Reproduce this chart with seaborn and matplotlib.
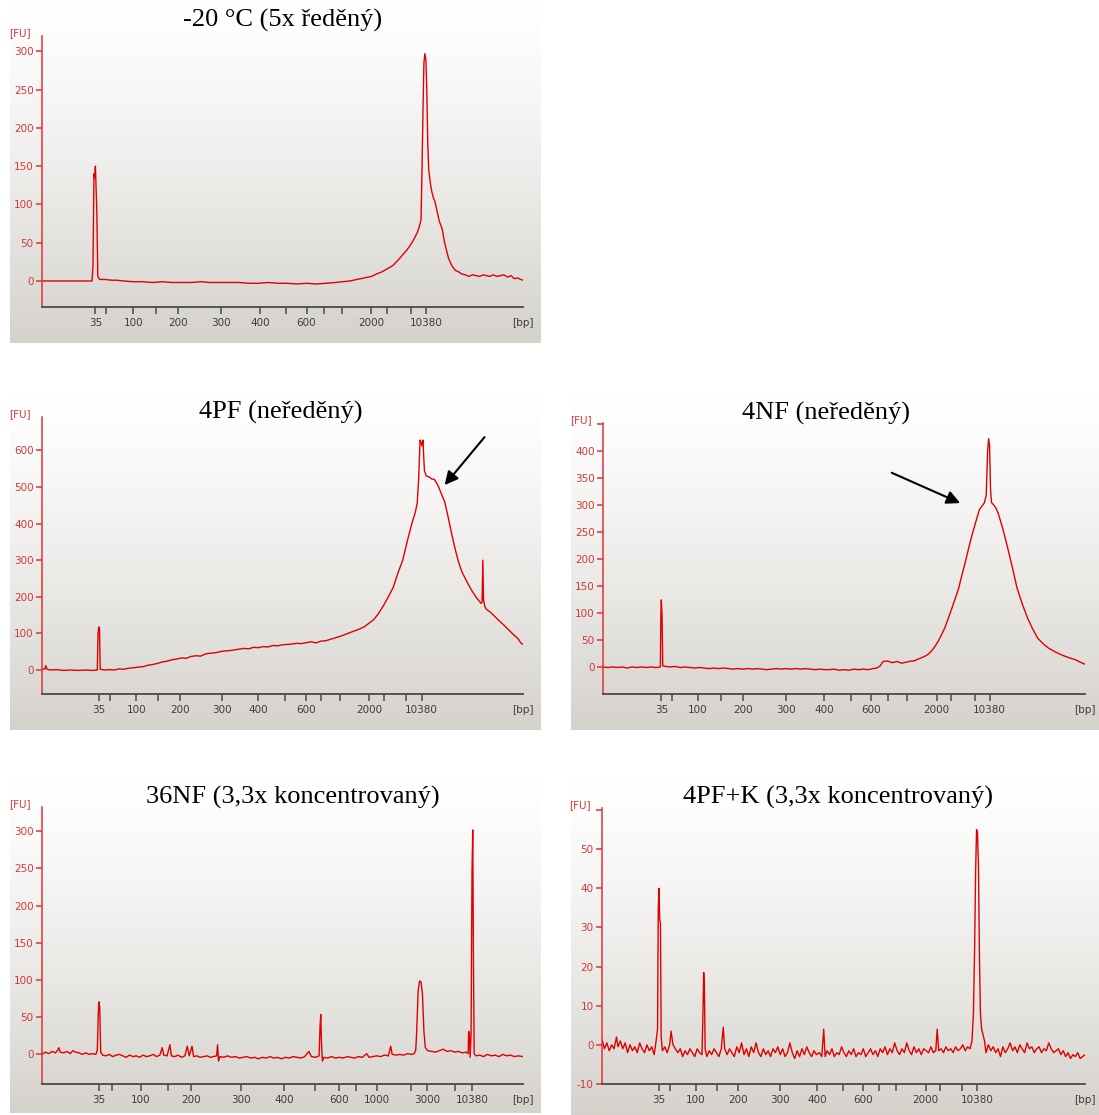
import numpy as np
import matplotlib
matplotlib.use('Agg')
import matplotlib.pyplot as plt
import seaborn as sns

W, H = 1099, 1115
TRACE = '#e00000'
AXIS_RED = '#e03434'
LABEL_RED = '#d03a3a'
GREY = '#3c3c3c'

# ladder sizes (bp) and which of them carry a label
LADDER_BP = [35, 50, 100, 150, 200, 300, 400, 500, 600, 700, 1000, 2000, 3000, 7000, 10380]
SHOWN_A = [35, 100, 200, 300, 400, 600, 2000, 10380]
SHOWN_B = [35, 100, 200, 300, 400, 600, 1000, 3000, 10380]

# ladder positions along the migration axis (% of axis length), per run
p1_ladder = [11.1, 13.4, 19.0, 23.8, 28.2, 37.3, 45.3, 50.8, 55.0, 58.6, 62.4, 68.5, 71.8, 76.7, 79.8]
p2_ladder = [11.8, 14.2, 19.6, 24.2, 28.6, 37.4, 45.0, 50.6, 54.8, 58.0, 61.9, 68.0, 71.0, 75.6, 78.9]
p3_ladder = [12.1, 14.4, 19.7, 24.5, 29.1, 37.9, 45.8, 51.5, 55.6, 59.1, 63.1, 69.2, 72.1, 77.1, 80.2]
p4_ladder = [11.8, 14.5, 20.5, 26.1, 30.9, 41.3, 50.3, 56.7, 61.7, 65.3, 69.6, 76.8, 80.1, 85.9, 89.5]
p5_ladder = [11.8, 14.1, 19.4, 23.9, 28.1, 36.9, 44.5, 49.9, 54.1, 57.3, 60.9, 67.0, 69.9, 74.6, 77.7]

# -20 °C (5x ředěný)
p1_x = [0.0, 4.0, 8.0, 10.4, 10.6, 10.8, 10.95, 11.1, 11.25, 11.4, 11.6, 12.0, 13.0, 14.5, 15.5,
        17.0, 19.0, 21.0, 23.0, 25.0, 27.0, 29.0, 31.0, 33.0, 35.0, 37.0, 39.0, 41.0, 43.0, 45.0,
        47.0, 49.0, 51.0, 53.0, 55.0, 57.0, 59.0, 61.0, 62.5, 64.0, 65.5, 67.0, 68.5, 69.5, 70.7,
        71.8, 72.9, 74.0, 75.1, 75.8, 76.5, 77.1, 77.6, 78.0, 78.4, 78.8, 79.0, 79.2, 79.4, 79.6,
        79.8, 80.0, 80.2, 80.4, 80.6, 80.8, 81.1, 81.4, 81.7, 82.1, 82.6, 83.2, 83.7, 84.1, 84.5,
        85.2, 85.9, 86.6, 87.3, 88.0, 88.7, 89.5, 90.2, 91.0, 91.7, 92.4, 93.1, 93.8, 94.6, 95.3,
        96.0, 96.8, 97.5, 98.2, 98.9, 99.5, 100.0]
p1_y = [0, 0, 0, 0, 20, 140, 135, 150, 120, 90, 6, 2, 2, 1, 1,
        0, -1, -1, -2, -1, -2, -2, -2, -1, -2, -2, -2, -2, -3, -3,
        -2, -3, -3, -4, -3, -4, -3, -2, -1, 0, 2, 4, 6, 9, 12,
        16, 20, 27, 35, 40, 46, 52, 58, 63, 70, 80, 145, 220, 285, 297,
        290, 250, 180, 145, 135, 125, 115, 108, 104, 92, 78, 68, 50, 40, 30,
        20, 14, 12, 9, 8, 6, 8, 7, 6, 8, 7, 6, 8, 6, 7,
        8, 5, 7, 3, 4, 2, 1]

# 4PF (neředěný)
p2_x = [0.0, 0.6, 0.8, 1.0, 1.5, 3.0, 4.5, 6.0, 7.5, 9.0, 10.5, 11.5, 11.65, 11.8, 11.95, 12.1,
        13.0, 14.0, 15.0, 16.0, 17.0, 18.0, 19.0, 20.0, 21.0, 22.0, 23.0, 24.0, 25.0, 26.0, 27.0,
        28.0, 29.0, 30.0, 31.0, 32.0, 33.0, 34.0, 35.0, 36.0, 37.0, 38.0, 39.0, 40.0, 41.0, 42.0,
        43.0, 44.0, 45.0, 46.0, 47.0, 48.0, 49.0, 50.0, 51.0, 52.0, 53.0, 54.0, 55.0, 56.0, 57.0,
        58.0, 59.0, 60.0, 61.0, 62.0, 63.0, 64.0, 65.0, 66.0, 67.0, 68.0, 69.0, 70.0, 71.0, 72.0,
        73.0, 74.0, 75.0, 76.0, 77.0, 77.6, 78.0, 78.3, 78.6, 78.8, 79.0, 79.2, 79.5, 79.9, 80.5,
        81.0, 81.6, 82.3, 83.0, 83.7, 84.4, 85.2, 85.9, 86.6, 87.3, 88.0, 88.7, 89.5, 90.4, 91.3,
        91.5, 91.65, 91.8, 92.1, 92.4, 93.2, 94.0, 95.0, 96.0, 97.0, 98.0, 99.0, 99.6, 100.0]
p2_y = [2, 3, 12, 3, 0, 1, -1, 0, -1, 0, -1, 0, 100, 118, 115, 2,
        0, 1, 0, 3, 2, 5, 6, 8, 9, 13, 15, 18, 22, 24, 28,
        30, 33, 32, 37, 39, 38, 44, 46, 47, 50, 52, 53, 55, 57, 59,
        58, 62, 61, 64, 63, 67, 66, 69, 70, 71, 73, 72, 75, 77, 74,
        79, 80, 84, 88, 92, 97, 102, 107, 112, 118, 128, 138, 155, 176, 200,
        225, 265, 300, 355, 405, 430, 455, 520, 628, 622, 612, 628, 545, 530, 527,
        522, 520, 505, 482, 460, 420, 370, 330, 295, 268, 250, 232, 214, 196, 182,
        186, 300, 190, 172, 166, 158, 148, 135, 123, 110, 97, 85, 73, 70]

# 4NF (neředěný)
p3_x = [0.0, 1.0, 2.0, 3.0, 4.0, 5.0, 6.0, 7.0, 8.0, 9.0, 10.0, 11.0, 11.9, 12.0, 12.1, 12.25,
        12.4, 13.0, 14.0, 15.0, 16.0, 17.0, 18.0, 19.0, 20.0, 21.0, 22.0, 23.0, 24.0, 25.0, 26.0,
        27.0, 28.0, 29.0, 30.0, 31.0, 32.0, 33.0, 34.0, 35.0, 36.0, 37.0, 38.0, 39.0, 40.0, 41.0,
        42.0, 43.0, 44.0, 45.0, 46.0, 47.0, 48.0, 49.0, 50.0, 51.0, 52.0, 53.0, 54.0, 55.0, 56.0,
        56.8, 57.5, 58.1, 59.0, 60.0, 61.0, 62.0, 63.0, 64.0, 64.5, 65.5, 66.6, 67.4, 68.1, 68.8,
        69.5, 70.2, 70.9, 71.6, 72.4, 73.1, 73.8, 74.5, 75.2, 75.9, 76.6, 77.3, 78.1, 78.6, 79.1,
        79.5, 79.8, 80.0, 80.2, 80.4, 80.6, 81.1, 81.5, 82.0, 82.9, 83.8, 84.8, 85.9, 87.0, 88.1,
        89.1, 90.2, 91.3, 92.4, 93.8, 95.2, 96.7, 98.1, 99.0, 100.0]
p3_y = [1, 0, 1, 0, 1, -1, 1, 0, 1, 0, 1, 0, 1, 95, 125, 95,
        3, 2, 1, 2, 0, 1, 0, -1, 0, -1, -2, -1, -2, -1, -2,
        -3, -2, -3, -2, -3, -2, -3, -4, -3, -2, -3, -2, -3, -2, -3,
        -2, -3, -4, -3, -4, -4, -3, -5, -4, -5, -3, -4, -3, -4, -2,
        -1, 3, 11, 12, 9, 11, 8, 10, 12, 12, 16, 20, 24, 30, 38,
        48, 60, 73, 90, 110, 128, 147, 172, 196, 222, 246, 268, 292, 298, 304,
        318, 400, 423, 410, 330, 305, 300, 295, 285, 258, 227, 190, 147, 117, 91,
        72, 54, 44, 36, 29, 23, 18, 14, 10, 6]

# 36NF (3,3x koncentrovaný)
p4_x = [0.0, 0.7, 1.4, 2.1, 2.8, 3.3, 3.5, 3.8, 4.5, 5.2, 5.9, 6.4, 7.0, 7.7, 8.4, 9.1,
        9.8, 10.5, 11.2, 11.5, 11.7, 11.85, 12.0, 12.2, 12.6, 13.3, 14.0, 14.7, 15.4, 16.1, 16.8,
        17.5, 18.2, 18.9, 19.6, 20.3, 21.0, 21.7, 22.4, 23.1, 23.8, 24.5, 25.0, 25.3, 26.0, 26.6,
        26.9, 27.6, 28.3, 29.0, 29.7, 30.2, 30.6, 31.2, 31.5, 32.2, 32.9, 33.6, 34.3, 35.0, 35.7,
        36.3, 36.5, 36.7, 37.0, 37.8, 38.6, 39.4, 40.2, 41.0, 41.8, 42.6, 43.4, 44.2, 45.0, 45.8,
        46.6, 47.4, 48.2, 49.0, 49.8, 50.6, 51.4, 52.2, 53.0, 53.8, 54.6, 55.5, 56.0, 56.8, 57.6,
        57.8, 57.95, 58.1, 58.3, 58.6, 59.4, 60.2, 61.0, 61.8, 62.6, 63.4, 64.2, 65.0, 65.8, 66.6,
        67.5, 68.0, 68.8, 69.6, 70.4, 71.2, 72.0, 72.5, 72.8, 73.6, 74.4, 75.2, 76.0, 76.8, 77.4,
        77.7, 77.9, 78.2, 78.5, 78.8, 79.1, 79.4, 79.7, 80.2, 81.0, 81.8, 82.6, 83.4, 84.2, 85.0,
        85.8, 86.6, 87.4, 88.2, 88.6, 88.7, 88.85, 89.0, 89.2, 89.4, 89.55, 89.7, 89.85, 90.2, 91.0,
        91.8, 92.6, 93.4, 94.2, 95.0, 95.8, 96.6, 97.4, 98.2, 99.0, 100.0]
p4_y = [-1, 2, 0, 3, 1, 5, 8, 2, 1, 3, 0, 4, 2, 1, -1, 1,
        -1, 0, -1, 5, 55, 70, 62, 2, -2, -3, -1, -4, -2, -1, -3,
        -5, -2, -4, -3, -5, -2, -4, -3, -1, -4, -2, 8, -2, -3, 12,
        -3, -4, -2, -5, -3, 10, -3, 10, -4, -3, -5, -4, -3, -5, -4,
        -3, 12, -10, -4, -5, -3, -5, -4, -6, -5, -4, -6, -5, -7, -5,
        -6, -4, -6, -5, -7, -5, -6, -4, -5, -6, -4, 3, -4, -5, -3,
        35, 53, 15, -10, -5, -6, -4, -6, -5, -6, -4, -5, -6, -4, -5,
        0, -5, -4, -3, -4, -2, -3, 10, -1, -2, -1, -2, 0, -1, 0,
        5, 30, 85, 98, 97, 80, 30, 8, 4, 3, 2, 4, 6, 3, 4,
        2, 3, 1, 2, 0, 30, 28, -5, 25, 245, 302, 125, 0, -3, -2,
        -4, -1, -3, -2, -4, -1, -3, -2, -4, -3, -4]

# 4PF+K (3,3x koncentrovaný)
p5_x = [0.0, 0.5, 1.0, 1.5, 2.0, 2.5, 3.0, 3.3, 3.8, 4.3, 4.8, 5.3, 5.8, 6.3, 6.8, 7.3,
        7.8, 8.3, 8.8, 9.3, 9.8, 10.3, 10.8, 11.2, 11.5, 11.65, 11.8, 11.95, 12.1, 12.25, 12.5,
        13.0, 13.5, 14.0, 14.3, 14.7, 15.2, 15.7, 16.2, 16.7, 17.2, 17.7, 18.2, 18.7, 19.2, 19.7,
        20.2, 20.7, 20.9, 21.05, 21.2, 21.35, 21.7, 22.2, 22.7, 23.2, 23.7, 24.2, 24.7, 25.1, 25.4,
        25.9, 26.4, 26.9, 27.4, 27.9, 28.4, 28.9, 29.4, 29.9, 30.4, 30.9, 31.4, 31.9, 32.4, 32.9,
        33.4, 33.9, 34.4, 34.9, 35.4, 35.9, 36.4, 36.9, 37.4, 37.9, 38.4, 38.9, 39.4, 39.9, 40.4,
        40.9, 41.4, 41.9, 42.4, 42.9, 43.4, 43.9, 44.4, 45.0, 45.5, 45.9, 46.2, 46.6, 47.1, 47.6,
        48.1, 48.6, 49.1, 49.6, 50.1, 50.6, 51.1, 51.6, 52.1, 52.6, 53.1, 53.6, 54.1, 54.6, 55.1,
        55.6, 56.1, 56.6, 57.1, 57.6, 58.1, 58.6, 59.1, 59.6, 60.1, 60.6, 61.1, 61.6, 62.1, 62.6,
        63.1, 63.6, 64.1, 64.6, 65.1, 65.6, 66.1, 66.6, 67.1, 67.6, 68.1, 68.6, 69.1, 69.4, 69.7,
        70.2, 70.7, 71.2, 71.7, 72.2, 72.7, 73.2, 73.7, 74.2, 74.7, 75.2, 75.7, 76.2, 76.6, 76.9,
        77.15, 77.35, 77.55, 77.75, 77.95, 78.15, 78.35, 78.6, 78.9, 79.2, 79.5, 80.0, 80.5, 81.0, 81.5,
        82.0, 82.5, 83.0, 83.5, 84.0, 84.5, 85.0, 85.5, 86.0, 86.5, 87.0, 87.5, 88.0, 88.5, 89.0,
        89.5, 90.0, 90.5, 91.0, 91.5, 92.0, 92.5, 93.0, 93.5, 94.0, 94.5, 95.0, 95.5, 96.0, 96.5,
        97.0, 97.5, 98.0, 98.5, 99.0, 99.5, 100.0]
p5_y = [1.5, -1, 0.5, -1.5, 0, -1, 2, -0.5, 1, -1, 0.5, -2, 0, -1.5, -0.5, -2,
        0.5, -1, -2, 0, -1.5, -0.5, -2.5, 1, 4, 35, 40, 32, 31, 2, -1.5,
        -0.5, -2, 0, 3.5, 0, -1, -2, -1, -3, -1.5, -2.5, -1, -2, -3, -1,
        -2, -2.5, 8, 18.5, 15, -1, -3, -1.5, -2.5, -1, -2, -3, -1, 4.5, -1,
        -2.5, -1, -2, -3, -0.5, -2, 0.5, -2.5, -1, -3, -0.5, -2, 0.5, -2, -3,
        -1, -2.5, -1.5, -3, -1, -2, -0.5, -2.5, -1, -3, -2, 0.5, -2, -3.5, -1.5,
        -3, -1, -2.5, -0.5, -2, -3, -1.5, -2.5, -2, -3, 4, -3, -1.5, -2.5, -1,
        -3, -2, -2.5, -0.5, -2, -3, -1.5, -2.5, -1, -3, -2, -2.5, -1, -3, -2,
        -1, -2.5, -1.5, -3, -1, -2, -0.5, -2.5, -1, -2, 0.5, -1.5, -2.5, -1, -2,
        0.5, -1.5, -2.5, -0.5, -2, -1, -2.5, -1, -1.5, -2, -0.5, -2, -1.5, 4, -1.5,
        -1, -2, -0.5, -1.5, -1, -2, -0.5, -1.5, -1, 0, -1.5, -0.5, -1, 1, 8,
        25, 44, 55, 54, 45, 22, 8, 4, 2.5, 1, -2, 0, -1.5, -0.5, -2,
        -1, -3, -0.5, -2, -1, 0.5, -1.5, -0.5, -2, 0, -1, -2, 0.5, -1, -0.5,
        -2, -1, -0.5, -2, -1, -1.5, 0.5, -1, -2, -1.5, -1, -2.5, -1.5, -3, -2,
        -3.5, -2.5, -3, -2, -3.5, -3, -2.5]

# arrows (tail, head) in data units
p2_arrow = ((92.0, 636), (83.7, 505))
p3_arrow = ((59.9, 360), (74.1, 304))

sns.set_style('white')
plt.rcParams['font.family'] = ['DejaVu Sans']


def px_box(x0, y0, x1, y1):
    return [x0 / W, 1 - y1 / H, (x1 - x0) / W, (y1 - y0) / H]


def add_backdrop(fig, box):
    bg = fig.add_axes(px_box(*box), zorder=0)
    t = np.linspace(0, 1, 256)[:, None, None] ** 1.3
    top = np.array([1.0, 1.0, 1.0])
    bot = np.array([0.835, 0.823, 0.800])
    img = np.repeat(top + (bot - top) * t, 2, axis=1)
    bg.imshow(img, aspect='auto', extent=(0, 1, 0, 1), origin='upper')
    bg.axis('off')


def draw_panel(fig, box, x, y, ladder, shown, ylim, yticks, ylabels, title, title_xy, arrow=None):
    ax = fig.add_axes(px_box(*box), zorder=2)
    ax.set_facecolor('none')
    sns.lineplot(x=x, y=y, ax=ax, color=TRACE, linewidth=1.0, sort=False, estimator=None)
    ax.set_xlim(0, 100)
    ax.set_ylim(*ylim)
    ax.set_xlabel('')
    ax.set_ylabel('')
    ax.set_xticks(ladder)
    ax.set_xticklabels([str(b) if b in shown else '' for b in LADDER_BP])
    ax.set_yticks(yticks)
    ax.set_yticklabels(ylabels)
    for s in ('top', 'right'):
        ax.spines[s].set_visible(False)
    ax.spines['left'].set_color(AXIS_RED)
    ax.spines['left'].set_linewidth(1.1)
    ax.spines['bottom'].set_color('#4a4a4a')
    ax.spines['bottom'].set_linewidth(1.3)
    ax.tick_params(axis='x', bottom=True, direction='out', length=5, width=1.1, color='#4a4a4a',
                   labelcolor=GREY, labelsize=7.5, pad=3)
    ax.tick_params(axis='y', left=True, direction='out', length=4.5, width=1.1, color=AXIS_RED,
                   labelcolor=LABEL_RED, labelsize=7.5, pad=1.5)
    ax.annotate('[FU]', xy=(0, 1), xycoords='axes fraction', xytext=(-16, 2),
                textcoords='offset points', ha='center', va='center',
                color=LABEL_RED, fontsize=7.5)
    ax.annotate('[bp]', xy=(1, 0), xycoords='axes fraction', xytext=(0, -11.5),
                textcoords='offset points', ha='center', va='center',
                color=GREY, fontsize=7.5)
    if arrow is not None:
        ax.annotate('', xy=arrow[1], xytext=arrow[0],
                    arrowprops=dict(arrowstyle='-|>', color='black', lw=1.5,
                                    mutation_scale=20, shrinkA=0, shrinkB=0))
    fig.text(title_xy[0] / W, 1 - title_xy[1] / H, title, ha='center', va='center',
             family='Liberation Serif', fontsize=19, color='black')
    return ax


fig = plt.figure(figsize=(W / 100, H / 100), dpi=100)
fig.patch.set_facecolor('white')

add_backdrop(fig, (10, 0, 541, 343))
add_backdrop(fig, (10, 392, 541, 730))
add_backdrop(fig, (571, 392, 1099, 730))
add_backdrop(fig, (10, 778, 541, 1113))
add_backdrop(fig, (571, 778, 1099, 1115))

draw_panel(fig, (42, 36, 523, 307), p1_x, p1_y, p1_ladder, SHOWN_A, (-34, 320),
           [0, 50, 100, 150, 200, 250, 300], ['0', '50', '100', '150', '200', '250', '300'],
           '-20 °C (5x ředěný)', (283, 20))
draw_panel(fig, (42, 417, 523, 694), p2_x, p2_y, p2_ladder, SHOWN_A, (-65.5, 691),
           [0, 100, 200, 300, 400, 500, 600], ['0', '100', '200', '300', '400', '500', '600'],
           '4PF (neředěný)', (281, 412), arrow=p2_arrow)
draw_panel(fig, (603, 423, 1085, 694), p3_x, p3_y, p3_ladder, SHOWN_A, (-49, 452),
           [0, 50, 100, 150, 200, 250, 300, 350, 400, 450],
           ['0', '50', '100', '150', '200', '250', '300', '350', '400', ''],
           '4NF (neředěný)', (826, 413), arrow=p3_arrow)
draw_panel(fig, (42, 807, 523, 1084), p4_x, p4_y, p4_ladder, SHOWN_B, (-41, 333),
           [0, 50, 100, 150, 200, 250, 300], ['0', '50', '100', '150', '200', '250', '300'],
           '36NF (3,3x koncentrovaný)', (293, 797))
draw_panel(fig, (602, 808, 1085, 1084), p5_x, p5_y, p5_ladder, SHOWN_A, (-10, 60.5),
           [-10, 0, 10, 20, 30, 40, 50, 60], ['-10', '0', '10', '20', '30', '40', '50', ''],
           '4PF+K (3,3x koncentrovaný)', (838, 797))

fig.savefig('out.png', dpi=100)
